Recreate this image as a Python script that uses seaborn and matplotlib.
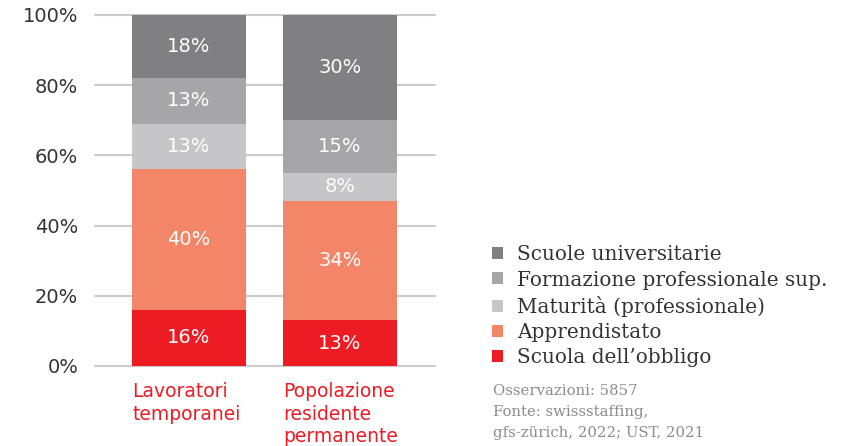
import numpy as np
import seaborn as sns
import matplotlib.pyplot as plt
import matplotlib.transforms as mtransforms
from matplotlib.patches import Patch

# ── Data ─────────────────────────────────────────────────────────────
categories = ['Lavoratori\ntemporanei', 'Popolazione\nresidente\npermanente']
series_names = ['Scuola dell\u2019obbligo', 'Apprendistato', 'Maturità (professionale)',
                'Formazione professionale sup.', 'Scuole universitarie']
values = {
    'Scuola dell\u2019obbligo': [16, 13],
    'Apprendistato': [40, 34],
    'Maturità (professionale)': [13, 8],
    'Formazione professionale sup.': [13, 15],
    'Scuole universitarie': [18, 30],
}
colors = ['#ed1c24', '#f38568', '#c6c6c8', '#a6a6a9', '#808083']
yticks = [0, 20, 40, 60, 80, 100]
ytick_labels = ['0%', '20%', '40%', '60%', '80%', '100%']
note = 'Osservazioni: 5857\nFonte: swissstaffing,\ngfs-zürich, 2022; UST, 2021'

# ── Figure ───────────────────────────────────────────────────────────
sns.set_style('white')
plt.rcParams['font.family'] = ['DejaVu Sans']

fig = plt.figure(figsize=(8.43, 4.46), dpi=100)
ax = fig.add_axes([0.1127, 0.1794, 0.4033, 0.787])

BAR_W = 0.755
bottom = np.zeros(len(categories))
xpos = np.arange(len(categories))
for name, col in zip(series_names, colors):
    vals = np.array(values[name], dtype=float)
    sns.barplot(x=xpos, y=vals, bottom=bottom, color=col, width=BAR_W,
                saturation=1, ax=ax, zorder=3, native_scale=True,
                linewidth=0, edgecolor='none')
    for x, v, b in zip(xpos, vals, bottom):
        ax.text(x, b + v / 2, f'{v:.0f}%', ha='center', va='center',
                color='white', fontsize=14, zorder=4)
    bottom += vals

ax.set_xlim(-0.623, 1.63)
ax.set_ylim(0, 100)
ax.set_yticks(yticks)
ax.set_yticklabels(ytick_labels, fontsize=14, color='#333333')
ax.set_xticks([])
ax.set_xlabel('')
ax.set_ylabel('')
ax.tick_params(axis='y', length=0, pad=12)
ax.yaxis.grid(True, color='#cbcbcd', lw=1.5, clip_on=False)
for s in ax.spines.values():
    s.set_visible(False)

# category labels, left-aligned to bar edge
trans = mtransforms.blended_transform_factory(ax.transData, ax.transAxes)
for x, cat in zip(xpos, categories):
    ax.text(x - BAR_W / 2, -0.045, cat, transform=trans, ha='left', va='top',
            color='#ed1c24', fontsize=13.5, linespacing=1.25)

# legend
handles = [Patch(facecolor=c, edgecolor='none', label=n)
           for n, c in zip(series_names[::-1], colors[::-1])]
fig.legend(handles=handles, loc='upper left', bbox_to_anchor=(0.584, 0.45),
           frameon=False, handlelength=0.55, handleheight=0.55, handletextpad=0.7,
           labelspacing=0.31, borderpad=0, borderaxespad=0,
           prop={'family': 'DejaVu Serif', 'size': 14.4}, labelcolor='#333333')

fig.text(0.585, 0.14, note, ha='left', va='top', color='#8c8c8c',
         fontsize=10.7, family='DejaVu Serif', linespacing=1.65)

plt.savefig('out.png', dpi=100)
plt.close()
